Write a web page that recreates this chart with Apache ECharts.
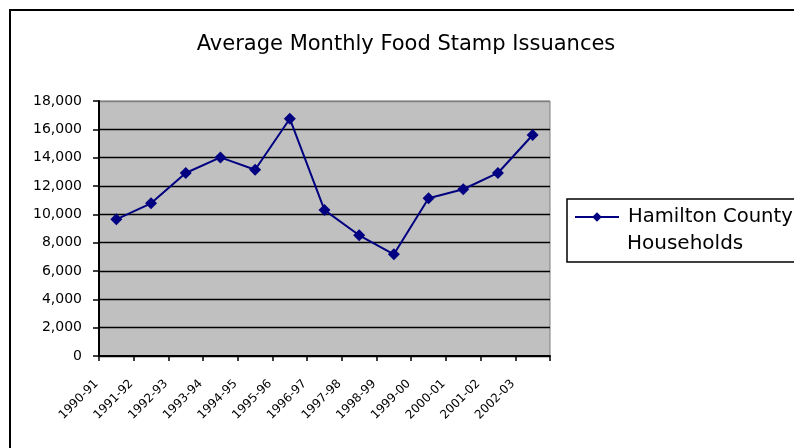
<!DOCTYPE html>
<html>
<head>
<meta charset="utf-8">
<script src="https://cdn.jsdelivr.net/npm/echarts@6/dist/echarts.min.js"></script>
<style>
  html, body { margin: 0; padding: 0; background: #fff; }
  #chart { width: 794px; height: 448px; }
</style>
</head>
<body>
<div id="chart"></div>
<script>
// fiscal years on the x axis
const years = ['1990-91', '1991-92', '1992-93', '1993-94', '1994-95', '1995-96', '1996-97',
  '1997-98', '1998-99', '1999-00', '2000-01', '2001-02', '2002-03'];
// average monthly households receiving food stamps
const households = [9650, 10780, 12920, 14020, 13150, 16750, 10300, 8520, 7180, 11130, 11770, 12920, 15600];
const seriesName = 'Hamilton County Households';

const chart = echarts.init(document.getElementById('chart'));

// top gridline (18,000) is the grey plot border in the original
const gridColors = ['#000', '#000', '#000', '#000', '#000', '#000', '#000', '#000', '#000', '#808080'];

const option = {
  animation: false,
  textStyle: { fontFamily: 'DejaVu Sans' },
  title: {
    text: 'Average Monthly Food Stamp Issuances',
    left: 401,
    top: 29,
    textAlign: 'center',
    textStyle: { fontSize: 21, fontWeight: 'normal', color: '#000', fontFamily: 'DejaVu Sans' }
  },
  graphic: [{
    type: 'rect',
    shape: { x: 10, y: 10, width: 820, height: 460 },
    style: { fill: 'none', stroke: '#000', lineWidth: 2 },
    silent: true
  }, {
    // second line of the legend label
    type: 'text',
    left: 627,
    top: 234,
    style: { text: 'Households', fontSize: 20, fill: '#000', fontFamily: 'DejaVu Sans' },
    silent: true
  }],
  legend: {
    left: 567,
    top: 199,
    orient: 'vertical',
    padding: [6, 40, 33, 7],
    borderColor: '#000',
    borderWidth: 1.5,
    itemWidth: 44,
    itemHeight: 12,
    textStyle: { fontSize: 19.6, lineHeight: 24, padding: [0, 0, 0, 4], color: '#000', fontFamily: 'DejaVu Sans' },
    formatter: () => 'Hamilton County',
    data: [seriesName]
  },
  grid: {
    left: 99,
    top: 101,
    right: 244,
    bottom: 92,
    show: true,
    backgroundColor: '#c0c0c0',
    borderColor: '#808080',
    borderWidth: 1
  },
  xAxis: {
    type: 'category',
    data: years,
    boundaryGap: true,
    axisLine: { lineStyle: { color: '#000', width: 2 } },
    axisTick: { show: true, length: 5, lineStyle: { color: '#000', width: 1.5 } },
    axisLabel: {
      rotate: 45,
      margin: 6,
      padding: [0, 28, 0, 0],
      fontSize: 12,
      color: '#000',
      interval: 0
    },
    splitLine: { show: false }
  },
  yAxis: {
    type: 'value',
    min: 0,
    max: 18000,
    interval: 2000,
    axisLine: { show: true, lineStyle: { color: '#000', width: 2 } },
    axisTick: { show: true, length: 6, lineStyle: { color: '#000', width: 1.5 } },
    axisLabel: {
      margin: 17,
      fontSize: 14,
      color: '#000',
      formatter: v => v.toLocaleString('en-US')
    },
    splitLine: { show: true, lineStyle: { color: gridColors, width: 1.4 } }
  },
  series: [{
    name: seriesName,
    type: 'line',
    data: households,
    symbol: 'diamond',
    symbolSize: 12,
    lineStyle: { color: '#000080', width: 2 },
    itemStyle: { color: '#000080' }
  }]
};

chart.setOption(option);
</script>
</body>
</html>
